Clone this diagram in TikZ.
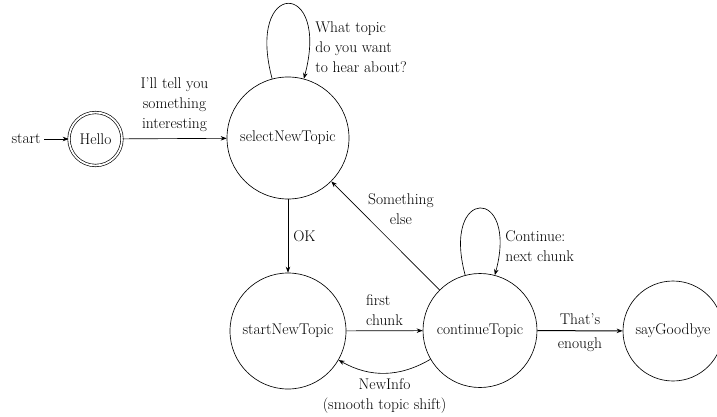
\documentclass[tikz,border=0pt]{standalone}
\usetikzlibrary{arrows.meta,calc}
\begin{document}
\begin{tikzpicture}[x=1pt,y=-1pt, line width=0.65pt,
  >={Stealth[length=6pt,width=4.5pt]},
  every node/.style={font=\fontsize{15.5}{20}\selectfont},
  state/.style={circle, draw, inner sep=0pt},
  lbl/.style={align=center, inner sep=2pt},
  looplbl/.style={align=left, inner sep=0pt, anchor=west}]
\useasboundingbox (0,0) rectangle (717,417);
% states
\node[state, minimum size=53pt, double, double distance=1.8pt] (hello) at (95.5,139) {Hello};
\node[anchor=east, inner sep=3pt] (start) at (44,139) {start};
\node[state, minimum size=122pt] (sel) at (288,138) {selectNewTopic};
\node[state, minimum size=116pt] (snt) at (288,331) {startNewTopic};
\node[state, minimum size=114pt] (ct) at (480,330.5) {continueTopic};
\node[state, minimum size=100pt] (bye) at (673,331) {sayGoodbye};
% transitions
\draw[->] (start) -- (hello);
\draw[->] (hello) -- node[lbl, above=5pt]{I’ll tell you\\something\\interesting} (sel);
\draw[->] (sel.105) .. controls +(-26.8,-100) and +(26.8,-100) .. (sel.75);
\node[looplbl] (sellbl) at ($(sel)+(27,-91)$) {What topic\\do you want\\to hear about?};
\draw[->] (sel) -- node[lbl, right=3pt]{OK} (snt);
\draw[->] (snt) -- node[lbl, above=3pt, align=left]{first\\chunk} (ct);
\draw[->] (ct) -- node[lbl, xshift=15.5pt, yshift=26.5pt]{Something\\else} (sel);
\draw[->] (ct.105) .. controls +(-24,-89) and +(24,-89) .. (ct.75);
\node[looplbl] (ctlbl) at ($(ct)+(25,-84.5)$) {Continue:\\next chunk};
\draw[->, line width=1pt] (ct) -- node[lbl, above=3.5pt]{That’s} node[lbl, below=4pt]{enough} (bye);
\draw[->] (ct) to[bend left=30] node[lbl, below=3pt]{NewInfo\\(smooth topic shift)} (snt);
\end{tikzpicture}
\end{document}
